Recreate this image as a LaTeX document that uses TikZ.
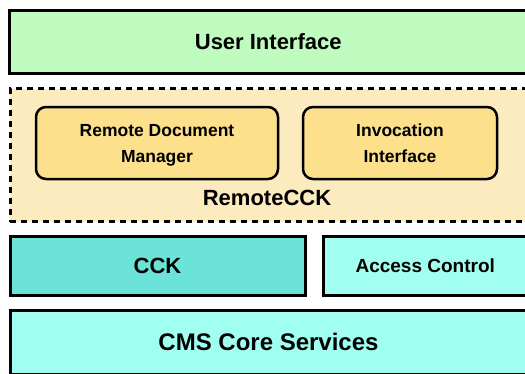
\documentclass[tikz,border=0pt]{standalone}
\usepackage{fontspec}
\setmainfont{Liberation Sans}
\usetikzlibrary{positioning}

\definecolor{uigreen}{RGB}{191,250,191}
\definecolor{remotebg}{RGB}{253,235,192}
\definecolor{partbg}{RGB}{253,224,140}
\definecolor{cckteal}{RGB}{108,227,217}
\definecolor{coreaqua}{RGB}{160,255,240}

\begin{document}
\begin{tikzpicture}[
  x = 1pt,
  y = -1pt,
  layer/.style={draw,line width=3pt,anchor=north west,inner sep=0pt,outer sep=0pt,
    font=\bfseries\fontsize{22}{26}\selectfont},
  remote/.style={draw,line width=3pt,dash pattern=on 6pt off 5pt,fill=remotebg,
    anchor=north west,inner sep=0pt,outer sep=0pt},
  part/.style={draw,line width=2.5pt,rounded corners=10pt,fill=partbg,anchor=north west,
    inner sep=0pt,outer sep=0pt,align=center,font=\bfseries\fontsize{17.5}{26}\selectfont},
  ]
  \useasboundingbox (0,0) rectangle (525,373);
  \clip (0,0) rectangle (525,373);

  \node [layer,fill=uigreen,minimum width=517.5pt,minimum height=63.5pt] (ui) at (9.5,10) {User Interface};

  \node [remote,minimum width=517pt,minimum height=133pt] (rcck) at (10,88.5) {};
  \node [font=\bfseries\fontsize{22}{26}\selectfont] (rlabel) at (267,198) {RemoteCCK};
  \node [part,minimum width=242pt,minimum height=72pt,text depth=0pt] (rdm) at (36,107) {Remote Document\\Manager};
  \node [part,minimum width=194pt,minimum height=72pt,text depth=0pt] (inv) at (303,107) {Invocation\\Interface};

  \node [layer,fill=cckteal,minimum width=295pt,minimum height=58.5pt] (cck) at (10,236.5) {CCK};
  \node [layer,fill=coreaqua,minimum width=203.5pt,minimum height=58.5pt,
    font=\bfseries\fontsize{19}{22}\selectfont] (acl) at (323.5,236.5) {Access Control};

  \node [layer,fill=coreaqua,minimum width=517pt,minimum height=64pt,
    font=\bfseries\fontsize{24}{28}\selectfont] (cms) at (10,310) {CMS Core Services};
\end{tikzpicture}
\end{document}
